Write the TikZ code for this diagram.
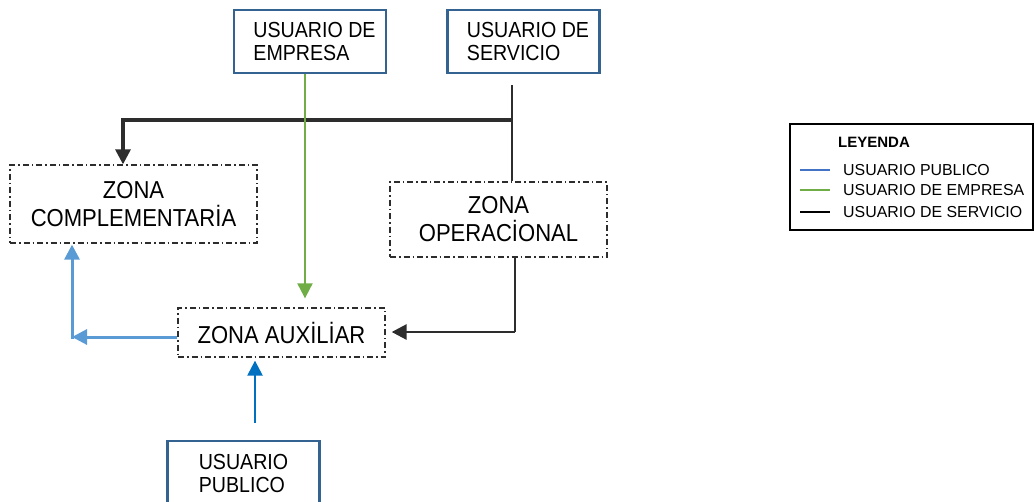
\documentclass[tikz,border=0pt]{standalone}
\usepackage{fontspec}
\setmainfont{Liberation Sans}
\newfontfamily\narrowsans[FakeStretch=0.9]{Liberation Sans}
\usetikzlibrary{arrows.meta,calc}
\definecolor{boxblue}{RGB}{52,98,145}
\definecolor{dgray}{RGB}{45,45,45}
\definecolor{lgreen}{RGB}{112,173,71}
\definecolor{pblue}{RGB}{0,112,192}
\definecolor{lblue}{RGB}{91,155,213}
\definecolor{legblue}{RGB}{68,114,196}
\tikzset{
  userbox/.style={draw=boxblue, line width=2.4pt, minimum width=152pt, minimum height=63pt,
    inner sep=0pt, align=left, font=\narrowsans\fontsize{21.8}{23.5}\selectfont},
  zonebox/.style={draw=dgray, line width=1.3pt, dash pattern=on 6pt off 3pt on 1.5pt off 3pt,
    inner sep=0pt, align=center, font=\narrowsans\fontsize{24.5}{28}\selectfont},
  tip/.style={-{Triangle[length=15pt,width=15pt]}},
  legtext/.style={anchor=west, inner sep=0pt, font=\fontsize{15.9}{18}\selectfont},
}
\begin{document}
\begin{tikzpicture}[x=1pt,y=-1pt]
\useasboundingbox (0,0) rectangle (1035,501);
\clip (0,0) rectangle (1035,501);
% user boxes
\node[userbox] (emp) at (310,41.5) {\hspace*{9pt}USUARIO DE\\\hspace*{9pt}EMPRESA};
\node[userbox] (serv) at (523.5,41.5) {\hspace*{9pt}USUARIO DE\\\hspace*{9pt}SERVICIO};
\node[userbox, minimum height=65pt] (pub) at (243.5,473.5) {USUARIO\\PUBLICO};
% zones
\node[zonebox, minimum width=247pt, minimum height=78pt] (compl) at (133.5,204) {ZONA\\COMPLEMENTARİA};
\node[zonebox, minimum width=217pt, minimum height=75pt] (oper) at (498.5,219.5) {ZONA\\OPERACİONAL};
\node[zonebox, minimum width=207pt, minimum height=49pt] (aux) at (281.5,332.5) {ZONA AUXİLİAR};
% coordinates
\coordinate (s1) at (512,85);
\coordinate (j) at (512,120);
\coordinate (c1) at (72,337);
\coordinate (p1) at (255,423);
\coordinate (r1) at (515,332);
% service user
\draw[dgray, line width=1.1pt] (s1) -- (oper.north -| s1);
\draw[dgray, line width=3.2pt, tip] (j) -| (compl.north -| 123,0);
\draw[dgray, line width=1.1pt] (oper.south -| r1) -- (r1);
\draw[dgray, line width=2.8pt, tip, shorten >=6pt] (r1) -- (aux.east |- r1);
% company user
\draw[lgreen, line width=2pt, tip, shorten >=9pt] (emp.south -| 305,0) -- (aux.north -| 305,0);
% public user
\draw[pblue, line width=2.4pt, tip, shorten >=3pt] (p1) -- (aux.south -| p1);
\draw[lblue, line width=3pt, tip] (aux.west |- c1) -- (c1);
\draw[lblue, line width=3pt, tip, shorten >=1pt] ([yshift=-2pt]c1) -- (compl.south -| c1);
% legend
\node[draw=black, line width=1.2pt, minimum width=243pt, minimum height=106pt, inner sep=0pt] (leg) at (911.5,177) {};
\node[anchor=west, inner sep=0pt, font=\fontsize{15}{18}\bfseries\selectfont] (legt) at (838,142) {LEYENDA};
\node[legtext] (l1) at (843,170) {USUARIO PUBLICO};
\node[legtext] (l2) at (843,190) {USUARIO DE EMPRESA};
\node[legtext] (l3) at (843,212) {USUARIO DE SERVICIO};
\draw[legblue, line width=2pt] (800,170) -- (830,170);
\draw[lgreen, line width=2pt] (800,190) -- (830,190);
\draw[black, line width=2pt] (800,212) -- (830,212);
\end{tikzpicture}
\end{document}
